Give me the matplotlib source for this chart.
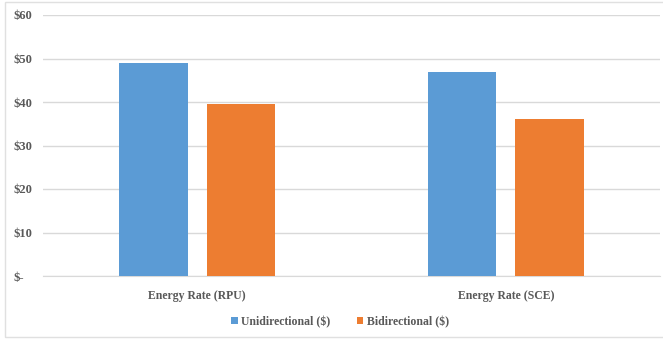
import numpy as np
import matplotlib.pyplot as plt
from matplotlib.patches import Rectangle

categories = ['Energy Rate (RPU)', 'Energy Rate (SCE)']
unidirectional = [49, 47]
bidirectional = [39.6, 36]
series_names = ['Unidirectional ($)', 'Bidirectional ($)']
yticks = [0, 10, 20, 30, 40, 50, 60]
ytick_labels = ['$-', '$10', '$20', '$30', '$40', '$50', '$60']

plt.rcParams['font.family'] = ['Liberation Serif', 'DejaVu Serif']
plt.rcParams['font.weight'] = 'bold'

fig = plt.figure(figsize=(6.63, 3.39), dpi=100)
ax = fig.add_axes([43 / 663, 63 / 339, 617 / 663, 261 / 339])

x = np.arange(len(categories))
w = 0.223
gap = 0.061
ax.bar(x - (w + gap) / 2, unidirectional, w, color='#5B9BD5', label=series_names[0], zorder=3)
ax.bar(x + (w + gap) / 2, bidirectional, w, color='#ED7D31', label=series_names[1], zorder=3)

ax.set_xlim(-0.5, 1.5)
ax.set_ylim(0, 60)
ax.set_yticks(yticks)
ax.set_yticklabels(ytick_labels, fontsize=9, color='#595959', ha='left')
ax.set_xticks(x)
ax.set_xticklabels(categories, fontsize=8.5, color='#595959')
ax.tick_params(axis='both', length=0)
ax.tick_params(axis='x', pad=10)
ax.tick_params(axis='y', pad=21.5)
ax.grid(axis='y', color='#D9D9D9', linewidth=1, zorder=0)
for s in ['top', 'right', 'left']:
    ax.spines[s].set_visible(False)
ax.spines['bottom'].set_color('#D9D9D9')

ax.legend(loc='center', bbox_to_anchor=(340 / 663, 17 / 339), bbox_transform=fig.transFigure,
          ncol=2, frameon=False, fontsize=8.5, handlelength=0.55, handleheight=0.55,
          handletextpad=0.3, columnspacing=2.2, labelcolor='#595959')

fig.patches.append(Rectangle((5 / 663, 2 / 339), 660 / 663, 335 / 339, transform=fig.transFigure,
                             fill=False, edgecolor='#E0E0E0', linewidth=1))

fig.savefig('out.png', dpi=100)
